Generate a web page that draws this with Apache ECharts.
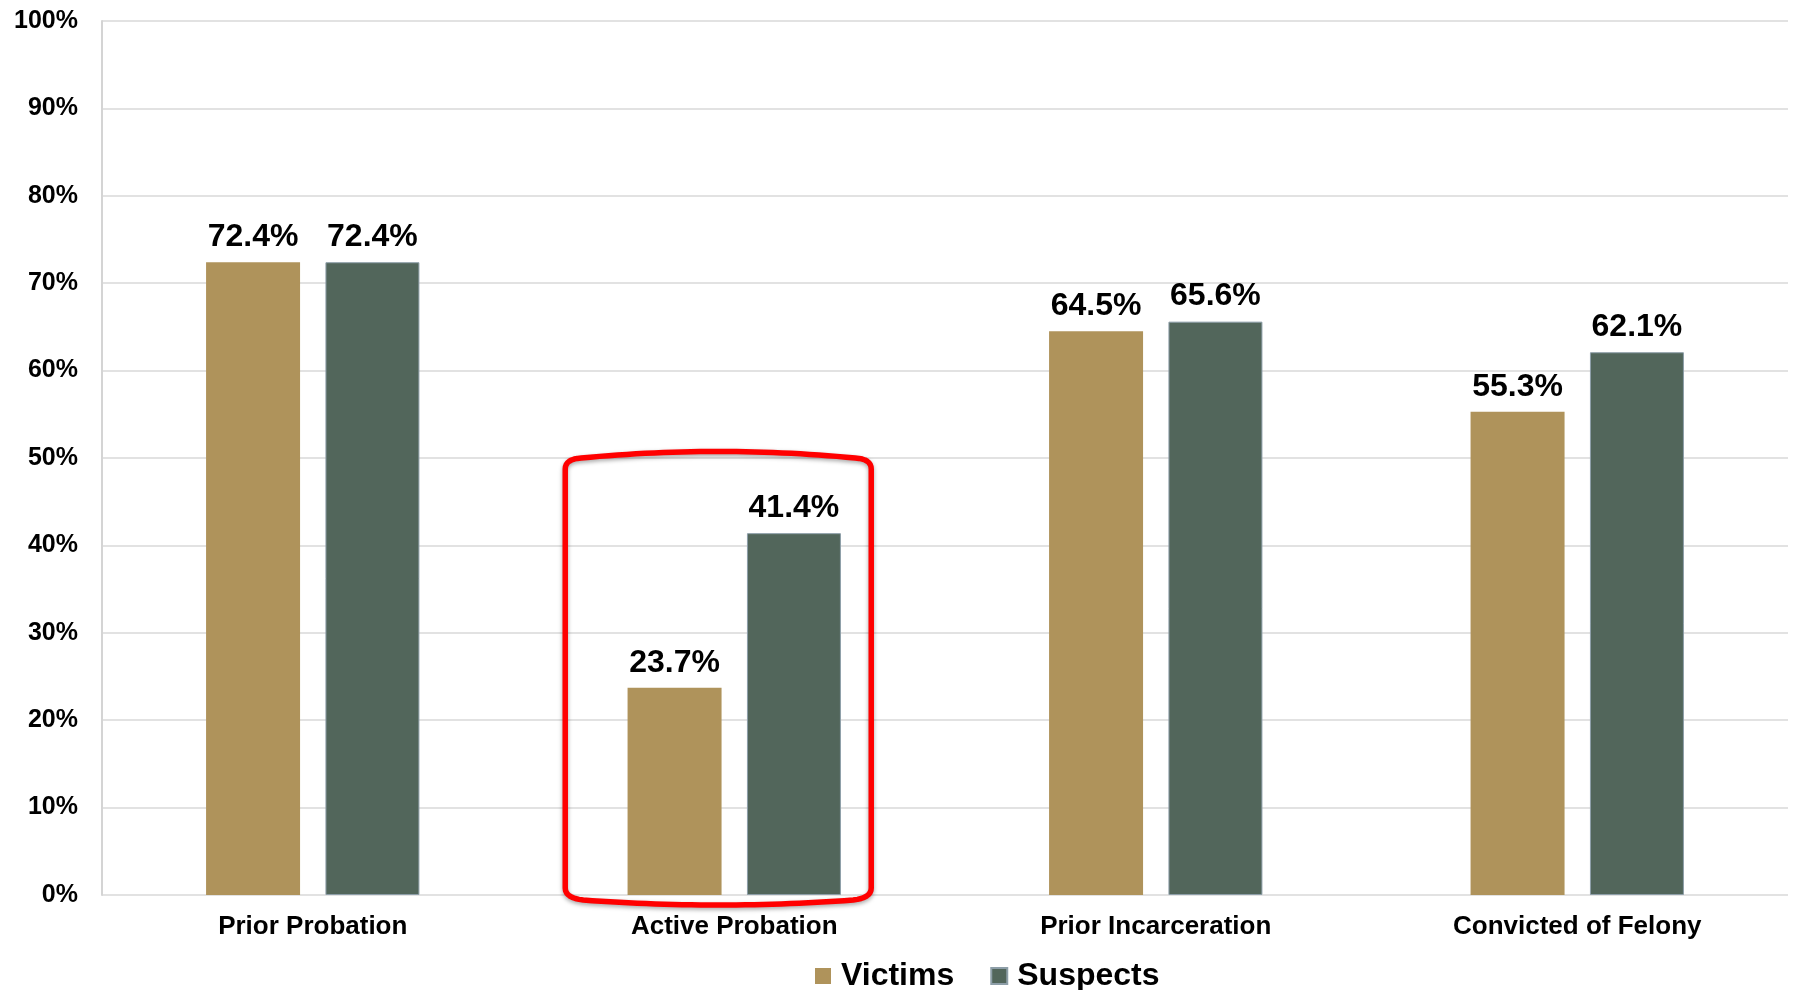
<!DOCTYPE html>
<html>
<head>
<meta charset="utf-8">
<title>Criminal History: Victims vs Suspects</title>
<script src="https://cdn.jsdelivr.net/npm/echarts@6/dist/echarts.min.js"></script>
<style>
  html, body { margin: 0; padding: 0; background: #ffffff; }
  #chart { width: 1795px; height: 990px; }
</style>
</head>
<body>
<div id="chart"></div>
<script>
// Share of each group with the given criminal-history marker (percent)
const categories = ['Prior Probation', 'Active Probation', 'Prior Incarceration', 'Convicted of Felony'];
const victims = [72.4, 23.7, 64.5, 55.3];
const suspects = [72.4, 41.4, 65.6, 62.1];
const seriesNames = ['Victims', 'Suspects'];
const highlightedCategory = 'Active Probation';

const FONT = '"Liberation Sans", Arial, Helvetica, sans-serif';

const chart = echarts.init(document.getElementById('chart'), null, { renderer: 'canvas' });

const valueLabel = {
  show: true,
  position: 'top',
  distance: 9,
  formatter: p => p.value.toFixed(1) + '%',
  color: '#000000',
  fontFamily: FONT,
  fontWeight: 'bold',
  fontSize: 32
};

chart.setOption({
  animation: false,
  backgroundColor: '#ffffff',
  grid: { left: 102, right: 7, top: 21, bottom: 95, containLabel: false },
  legend: {
    data: seriesNames,
    top: 955,
    left: 810,
    icon: 'rect',
    itemWidth: 16,
    itemHeight: 16,
    itemGap: 36,
    textStyle: {
      fontFamily: FONT, fontWeight: 'bold', fontSize: 32, color: '#000000',
      padding: [0, 0, 0, 5]
    }
  },
  xAxis: {
    type: 'category',
    data: categories,
    axisLine: { show: false },
    axisTick: { show: false },
    axisLabel: { margin: 19, color: '#000000', fontFamily: FONT, fontWeight: 'bold', fontSize: 26 }
  },
  yAxis: {
    type: 'value',
    min: 0,
    max: 100,
    interval: 10,
    axisLine: { show: true, lineStyle: { color: '#d4d4d4', width: 2 } },
    axisTick: { show: false },
    axisLabel: {
      margin: 24,
      formatter: '{value}%',
      color: '#000000',
      fontFamily: FONT,
      fontWeight: 'bold',
      fontSize: 25
    },
    splitLine: { show: true, lineStyle: { color: '#d9d9d9', width: 1.5 } }
  },
  series: [
    {
      name: seriesNames[0],
      type: 'bar',
      data: victims,
      barWidth: '22.3%',
      barGap: '27%',
      itemStyle: { color: '#af935b' },
      label: valueLabel
    },
    {
      name: seriesNames[1],
      type: 'bar',
      data: suspects,
      barWidth: '22.3%',
      itemStyle: { color: '#52665b', borderColor: '#8d9ea8', borderWidth: 1 },
      label: valueLabel
    }
  ]
});

// Sample a quadratic Bezier segment into points (excluding its start point)
function quad(p0, c, p1, steps) {
  const pts = [];
  for (let i = 1; i <= steps; i++) {
    const t = i / steps, u = 1 - t;
    pts.push([
      u * u * p0[0] + 2 * u * t * c[0] + t * t * p1[0],
      u * u * p0[1] + 2 * u * t * c[1] + t * t * p1[1]
    ]);
  }
  return pts;
}

// Red call-out around the highlighted category, placed from the axis scales
function drawCallout() {
  const idx = categories.indexOf(highlightedCategory);
  const c0 = chart.convertToPixel({ gridIndex: 0 }, [idx, 0]);
  const c1 = chart.convertToPixel({ gridIndex: 0 }, [idx + 1, 0]);
  const y50 = chart.convertToPixel({ gridIndex: 0 }, [idx, 50])[1];
  const band = c1[0] - c0[0];
  const cx = c0[0];
  const L = cx - 0.401 * band;
  const R = cx + 0.325 * band;
  const M = (L + R) / 2;
  const T = y50 + 1;
  const B = c0[1] + 3;

  let pts = [[L, B - 10], [L, T + 10]];
  pts = pts.concat(quad([L, T + 10], [L, T], [L + 16, T - 1], 8));
  pts = pts.concat(quad([L + 16, T - 1], [M, T - 14], [R - 16, T - 1], 30));
  pts = pts.concat(quad([R - 16, T - 1], [R, T], [R, T + 10], 8));
  pts.push([R, B - 10]);
  pts = pts.concat(quad([R, B - 10], [R, B], [R - 18, B + 2], 8));
  pts = pts.concat(quad([R - 18, B + 2], [M, B + 12], [L + 18, B + 2], 30));
  pts = pts.concat(quad([L + 18, B + 2], [L, B], [L, B - 10], 8));

  chart.setOption({
    graphic: [{
      type: 'polygon',
      z: 100,
      shape: { points: pts },
      style: {
        fill: 'rgba(0,0,0,0)',
        stroke: '#ff0000',
        lineWidth: 5.5,
        lineJoin: 'round',
        shadowBlur: 4,
        shadowColor: 'rgba(0,0,0,0.35)',
        shadowOffsetY: 2
      }
    }]
  });
}
drawCallout();
</script>
</body>
</html>
